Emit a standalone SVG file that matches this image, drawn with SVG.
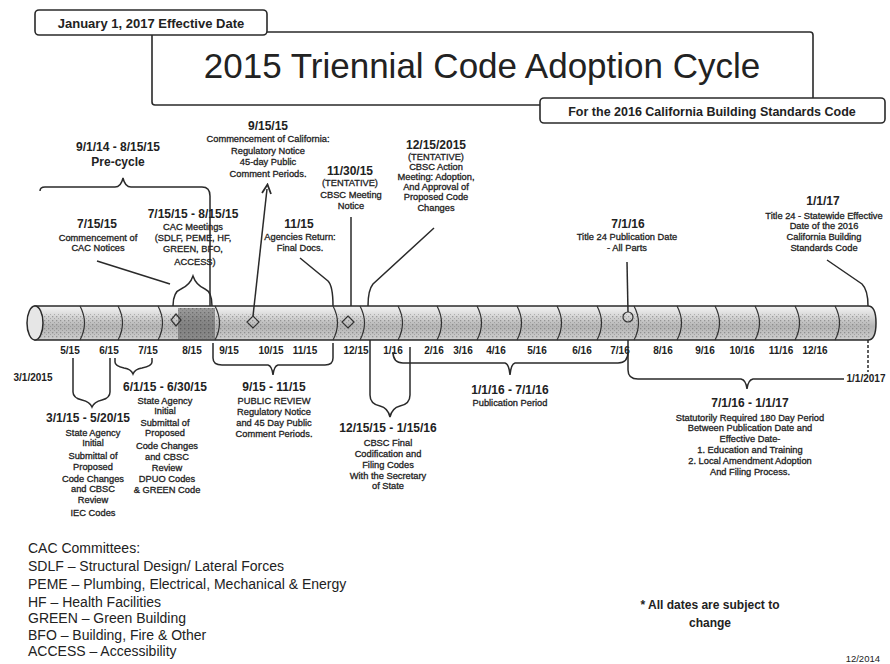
<svg xmlns="http://www.w3.org/2000/svg" width="890" height="664" viewBox="0 0 890 664">
<style>
.bx{fill:#fff;stroke:#2a2a2a;stroke-width:1.6}
.ln{fill:none;stroke:#2a2a2a;stroke-width:1.5}
.dv{fill:none;stroke:#333;stroke-width:1.2}
.hd{font-family:"Liberation Sans",Arial,sans-serif;font-weight:bold;font-size:12px;fill:#222;text-anchor:middle}
.tx{font-family:"Liberation Sans",Arial,sans-serif;font-size:9.3px;fill:#222;stroke:#222;stroke-width:0.3;text-anchor:middle}
.mo{font-family:"Liberation Sans",Arial,sans-serif;font-weight:bold;font-size:10px;fill:#222;text-anchor:middle}
.lg{font-family:"Liberation Sans",Arial,sans-serif;font-size:14px;fill:#222}
</style>
<defs>
<linearGradient id="barg" x1="0" y1="0" x2="0" y2="1">
<stop offset="0" stop-color="#f4f4f4"/>
<stop offset="0.3" stop-color="#d6d6d6"/>
<stop offset="0.6" stop-color="#b4b4b4"/>
<stop offset="1" stop-color="#cfcfcf"/>
</linearGradient>
<pattern id="st" width="4" height="4" patternUnits="userSpaceOnUse">
<rect width="1.3" height="1.3" fill="#555"/>
<rect x="2" y="2" width="1" height="1" fill="#777"/>
</pattern>
<marker id="ah" markerWidth="8" markerHeight="8" refX="4" refY="4" orient="auto">
<path d="M1,1 L7,4 L1,7" fill="none" stroke="#2a2a2a" stroke-width="1.2"/>
</marker>
</defs>
<rect width="890" height="664" fill="#fff"/>

<g id="title">
<rect class="bx" x="152" y="32" width="661" height="73" rx="3"/>
<text x="482" y="78" font-family="Liberation Sans,Arial,sans-serif" font-size="35" fill="#222" text-anchor="middle">2015 Triennial Code Adoption Cycle</text>
</g>
<g id="effective-date">
<rect class="bx" x="35" y="10" width="232" height="25" rx="4"/>
<text x="151" y="28" font-family="Liberation Sans,Arial,sans-serif" font-weight="bold" font-size="13" fill="#222" text-anchor="middle">January 1, 2017 Effective Date</text>
</g>
<g id="subtitle">
<rect class="bx" x="540" y="98" width="345" height="25" rx="4"/>
<text x="712" y="116" font-family="Liberation Sans,Arial,sans-serif" font-weight="bold" font-size="12.5" fill="#222" text-anchor="middle">For the 2016 California Building Standards Code</text>
</g>

<g id="timeline">
<path d="M35,306 L868,306 Q876,306 876,323 Q876,340 868,340 L35,340 Z" fill="url(#barg)" stroke="#2a2a2a" stroke-width="1.5"/>
<rect x="40" y="314" width="830" height="24" fill="url(#st)" opacity="0.45"/>
<rect x="178" y="308" width="37" height="31" fill="#555" opacity="0.55"/>
<rect x="178" y="308" width="37" height="31" fill="url(#st)" opacity="0.6"/>
<ellipse cx="35" cy="323" rx="8" ry="17" fill="#e6e6e6" stroke="#2a2a2a" stroke-width="1.5"/>
<path class="dv" d="M80,306 Q89,323 80,340 M118,306 Q127,323 118,340 M158,306 Q167,323 158,340 M215,306 Q224,323 215,340 M333,306 Q342,323 333,340 M360,306 Q369,323 360,340 M398,306 Q407,323 398,340 M437,306 Q446,323 437,340 M477,306 Q486,323 477,340 M517,306 Q526,323 517,340 M557,306 Q566,323 557,340 M597,306 Q606,323 597,340 M634,306 Q643,323 634,340 M677,306 Q686,323 677,340 M715,306 Q724,323 715,340 M755,306 Q764,323 755,340 M795,306 Q804,323 795,340 M835,306 Q844,323 835,340"/>
<path class="dv" d="M176,314 L181,320 L176,326 L171,320 Z M253,316 L259,322 L253,328 L247,322 Z M348,316 L354,322 L348,328 L342,322 Z"/>
<circle cx="628" cy="317" r="5" class="dv"/>
<text class="mo" x="70" y="354">5/15</text>
<text class="mo" x="109" y="354">6/15</text>
<text class="mo" x="148" y="354">7/15</text>
<text class="mo" x="192" y="354">8/15</text>
<text class="mo" x="229" y="354">9/15</text>
<text class="mo" x="271" y="354">10/15</text>
<text class="mo" x="305" y="354">11/15</text>
<text class="mo" x="356" y="354">12/15</text>
<text class="mo" x="393" y="354">1/16</text>
<text class="mo" x="434" y="354">2/16</text>
<text class="mo" x="463" y="354">3/16</text>
<text class="mo" x="496" y="354">4/16</text>
<text class="mo" x="537" y="354">5/16</text>
<text class="mo" x="582" y="354">6/16</text>
<text class="mo" x="620" y="354">7/16</text>
<text class="mo" x="663" y="354">8/16</text>
<text class="mo" x="705" y="354">9/16</text>
<text class="mo" x="742" y="354">10/16</text>
<text class="mo" x="781" y="354">11/16</text>
<text class="mo" x="815" y="354">12/16</text>
<text class="mo" x="33" y="381">3/1/2015</text>
<text class="mo" x="866" y="382">1/1/2017</text>
</g>

<g id="connectors">
<path class="ln" d="M40,191 Q40,187 45,187 L115,187 Q121,187 123,178 Q125,187 131,187 L202,187 Q210,187 210,196 L210,306"/>
<path class="ln" d="M97,261 L170,284"/>
<path class="ln" d="M173,306 Q173,292 181,289 Q190,285 193,276 Q196,285 205,289 Q212,292 212,306"/>
<path class="ln" d="M253,316 L267,189" marker-end="url(#ah)"/>
<path class="ln" d="M300,258 L328,281 Q333,286 333,306"/>
<path class="ln" d="M351,217 L351,306"/>
<path class="ln" d="M434,228 L373,284 Q368,290 368,306"/>
<path class="ln" d="M627,262 L628,312"/>
<path class="ln" d="M827,260 L862,284 Q868,290 868,306"/>
<path class="ln" d="M868,340 L868,372" stroke-dasharray="3,2"/>
<path class="ln" d="M73,358 L73,392 Q73,398 82,400 Q90,402 92,407 Q94,402 102,400 Q110,398 110,392 L110,358"/>
<path class="ln" d="M115,358 L115,362 Q115,366 124,368 Q131,369 133,374 Q135,369 142,368 Q152,366 152,362 L152,358"/>
<path class="ln" d="M213,343 L213,358 Q213,365 222,365 L268,365 Q272,366 273,375 Q274,366 278,365 L325,365 Q333,365 333,358 L333,343"/>
<path class="ln" d="M370,340 L370,395 Q370,404 380,406 Q388,408 390,417 Q392,408 400,406 Q410,404 410,395 L410,347"/>
<path class="ln" d="M393,352 Q393,363 403,363 L505,363 Q509,364 510,375 Q511,364 515,363 L618,363 Q628,363 628,352"/>
<path class="ln" d="M628,340 L628,370 Q628,379 638,379 L741,379 Q746,380 747,389 Q748,380 753,379 L844,379"/>
</g>

<g id="precycle">
<text class="hd" x="118" y="151">9/1/14 - 8/15/15</text>
<text class="hd" x="118" y="166">Pre-cycle</text>
</g>
<g id="cac-notices">
<text class="hd" x="97" y="228">7/15/15</text>
<text class="tx" x="98" y="241">Commencement of</text>
<text class="tx" x="98" y="251">CAC Notices</text>
</g>
<g id="cac-meetings">
<text class="hd" x="193" y="218">7/15/15 - 8/15/15</text>
<text class="tx" x="193" y="230">CAC Meetings</text>
<text class="tx" x="193" y="241">(SDLF, PEME, HF,</text>
<text class="tx" x="193" y="252">GREEN, BFO,</text>
<text class="tx" x="195" y="265">ACCESS)</text>
</g>
<g id="commencement-california">
<text class="hd" x="268" y="130">9/15/15</text>
<text class="tx" x="268" y="142">Commencement of California:</text>
<text class="tx" x="268" y="154">Regulatory Notice</text>
<text class="tx" x="268" y="165">45-day Public</text>
<text class="tx" x="268" y="177">Comment Periods.</text>
</g>
<g id="agencies-return">
<text class="hd" x="299" y="228">11/15</text>
<text class="tx" x="300" y="240">Agencies Return:</text>
<text class="tx" x="300" y="251">Final Docs.</text>
</g>
<g id="cbsc-meeting-notice">
<text class="hd" x="350" y="175">11/30/15</text>
<text class="tx" x="350" y="186">(TENTATIVE)</text>
<text class="tx" x="351" y="198">CBSC Meeting</text>
<text class="tx" x="351" y="209">Notice</text>
</g>
<g id="cbsc-action">
<text class="hd" x="436" y="149">12/15/2015</text>
<text class="tx" x="436" y="160">(TENTATIVE)</text>
<text class="tx" x="436" y="170">CBSC Action</text>
<text class="tx" x="436" y="180">Meeting: Adoption,</text>
<text class="tx" x="436" y="190">And Approval of</text>
<text class="tx" x="436" y="200">Proposed Code</text>
<text class="tx" x="436" y="211">Changes</text>
</g>
<g id="publication-date">
<text class="hd" x="628" y="228">7/1/16</text>
<text class="tx" x="627" y="240">Title 24 Publication Date</text>
<text class="tx" x="627" y="251">- All Parts</text>
</g>
<g id="effective">
<text class="hd" x="823" y="205">1/1/17</text>
<text class="tx" x="824" y="219">Title 24 - Statewide Effective</text>
<text class="tx" x="824" y="229">Date of the 2016</text>
<text class="tx" x="824" y="240">California Building</text>
<text class="tx" x="824" y="251">Standards Code</text>
</g>

<g id="initial-submittal-1">
<text class="hd" x="88" y="422">3/1/15 - 5/20/15</text>
<text class="tx" x="93" y="436">State Agency</text>
<text class="tx" x="93" y="446">Initial</text>
<text class="tx" x="93" y="459">Submittal of</text>
<text class="tx" x="93" y="470">Proposed</text>
<text class="tx" x="93" y="482">Code Changes</text>
<text class="tx" x="93" y="492">and CBSC</text>
<text class="tx" x="93" y="503">Review</text>
<text class="tx" x="93" y="516">IEC Codes</text>
</g>
<g id="initial-submittal-2">
<text class="hd" x="165" y="391">6/1/15 - 6/30/15</text>
<text class="tx" x="165" y="404">State Agency</text>
<text class="tx" x="165" y="414">Initial</text>
<text class="tx" x="165" y="426">Submittal of</text>
<text class="tx" x="165" y="436">Proposed</text>
<text class="tx" x="167" y="449">Code Changes</text>
<text class="tx" x="167" y="460">and CBSC</text>
<text class="tx" x="167" y="471">Review</text>
<text class="tx" x="167" y="482">DPUO Codes</text>
<text class="tx" x="167" y="493">&amp; GREEN Code</text>
</g>
<g id="public-review">
<text class="hd" x="274" y="391">9/15 - 11/15</text>
<text class="tx" x="274" y="404">PUBLIC REVIEW</text>
<text class="tx" x="274" y="415">Regulatory Notice</text>
<text class="tx" x="274" y="426">and 45 Day Public</text>
<text class="tx" x="274" y="437">Comment Periods.</text>
</g>
<g id="final-codification">
<text class="hd" x="388" y="432">12/15/15 - 1/15/16</text>
<text class="tx" x="388" y="446">CBSC Final</text>
<text class="tx" x="388" y="457">Codification and</text>
<text class="tx" x="388" y="468">Filing Codes</text>
<text class="tx" x="388" y="479">With the Secretary</text>
<text class="tx" x="388" y="489">of State</text>
</g>
<g id="publication-period">
<text class="hd" x="510" y="394">1/1/16 - 7/1/16</text>
<text class="tx" x="510" y="406">Publication Period</text>
</g>
<g id="statutory-period">
<text class="hd" x="750" y="407">7/1/16 - 1/1/17</text>
<text class="tx" x="750" y="421">Statutorily Required 180 Day Period</text>
<text class="tx" x="750" y="431">Between Publication Date and</text>
<text class="tx" x="750" y="442">Effective Date-</text>
<text class="tx" x="750" y="453">1. Education and Training</text>
<text class="tx" x="750" y="464">2. Local Amendment Adoption</text>
<text class="tx" x="750" y="475">And Filing Process.</text>
</g>

<g id="legend">
<text class="lg" x="28" y="553">CAC Committees:</text>
<text class="lg" x="28" y="571">SDLF – Structural Design/ Lateral Forces</text>
<text class="lg" x="28" y="589">PEME – Plumbing, Electrical, Mechanical &amp; Energy</text>
<text class="lg" x="28" y="607">HF – Health Facilities</text>
<text class="lg" x="28" y="623">GREEN – Green Building</text>
<text class="lg" x="28" y="640">BFO – Building, Fire &amp; Other</text>
<text class="lg" x="28" y="656">ACCESS – Accessibility</text>
</g>
<g id="note">
<text x="710" y="609" font-family="Liberation Sans,Arial,sans-serif" font-weight="bold" font-size="12" fill="#222" text-anchor="middle">* All dates are subject to</text>
<text x="710" y="627" font-family="Liberation Sans,Arial,sans-serif" font-weight="bold" font-size="12" fill="#222" text-anchor="middle">change</text>
<text x="880" y="662" font-family="Liberation Sans,Arial,sans-serif" font-size="9.5" fill="#222" text-anchor="end">12/2014</text>
</g>
</svg>
